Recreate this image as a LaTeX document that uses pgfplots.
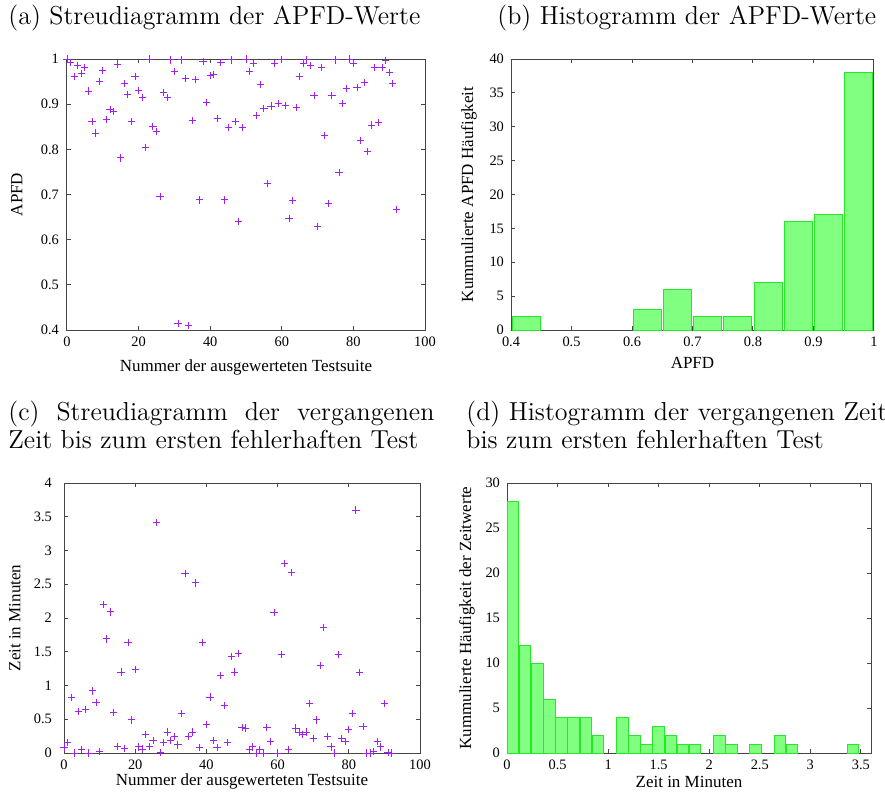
\documentclass[border=0pt]{standalone}
\usepackage{fontspec}
\usepackage{pgfplots}
\pgfplotsset{compat=1.18}
\newfontfamily\tnr{Liberation Serif}
\definecolor{pts}{RGB}{160,32,240}
\definecolor{barfill}{RGB}{128,255,128}
\definecolor{baredge}{RGB}{40,230,40}
\definecolor{axgray}{RGB}{70,70,70}
\pgfplotsset{
  myaxis/.style={
    scale only axis,
    axis line style={axgray, line width=0.5pt},
    every tick/.style={axgray, line width=0.5pt},
    tick align=inside,
    major tick length=2pt,
    minor tick num=0,
    /pgf/number format/assume math mode=true,
    ticklabel style={font=\tnr\fontsize{7.2}{8}\selectfont},
    label style={font=\tnr\fontsize{8.5}{10}\selectfont},
    scaled ticks=false,
  },
  scat/.style={only marks, mark=+, mark size=1.8pt, color=pts, mark options={line width=0.45pt}},
  hist/.style={ybar, bar shift=0pt, fill=barfill, draw=baredge, line width=0.5pt},
}
\pgfplotstableread{
n v
0 1.0
1 0.993
2 0.961
3 0.985
4 0.968
5 0.982
6 0.929
7 0.861
8 0.836
9 0.951
10 0.975
11 0.866
12 0.889
13 0.884
14 0.989
15 0.781
16 0.946
17 0.922
18 0.861
19 0.962
20 0.931
21 0.914
22 0.804
23 1.0
24 0.851
25 0.839
26 0.695
27 0.926
28 0.914
29 0.998
30 0.973
31 0.415
32 0.998
33 0.957
34 0.41
35 0.863
36 0.955
37 0.688
38 0.994
39 0.904
40 0.963
41 0.965
42 0.869
43 0.992
44 0.688
45 0.849
46 0.998
47 0.861
48 0.641
49 0.849
50 1.0
51 0.973
52 0.990
53 0.875
54 0.943
55 0.891
56 0.725
57 0.896
58 0.990
59 0.901
60 0.999
61 0.897
62 0.647
63 0.687
64 0.892
65 0.962
66 0.990
67 0.998
68 0.986
69 0.919
70 0.630
71 0.982
72 0.831
73 0.680
74 0.920
75 0.998
76 0.749
77 0.901
78 0.935
79 1.0
80 0.990
81 0.937
82 0.820
83 0.948
84 0.796
85 0.854
86 0.981
87 0.859
88 0.981
89 0.996
90 0.971
91 0.945
92 0.667
}\apfd
\pgfplotstableread{
x c
0.425 2
0.625 3
0.675 6
0.725 2
0.775 2
0.825 7
0.875 16
0.925 17
0.975 38
}\apfdhist
\pgfplotstableread{
n t
0 0.08
1 0.15
2 0.82
3 0.0
4 0.61
5 0.05
6 0.64
7 0.0
8 0.92
9 0.75
10 0.02
11 2.20
12 1.69
13 2.09
14 0.60
15 0.10
16 1.20
17 0.07
18 1.64
19 0.49
20 1.24
21 0.09
22 0.06
23 0.28
24 0.10
25 0.19
26 3.41
27 0.005
28 0.16
29 0.31
30 0.19
31 0.24
32 0.12
33 0.58
34 2.66
35 0.24
36 0.31
37 2.52
38 0.08
39 1.64
40 0.42
41 0.83
42 0.19
43 0.08
44 1.15
45 0.70
46 0.15
47 1.43
48 1.20
49 1.47
50 0.38
51 0.37
52 0.05
53 0.09
54 0.0
55 0.05
56 0.0
57 0.375
58 0.17
59 2.08
60 0.0
61 1.46
62 2.81
63 0.05
64 2.68
65 0.37
66 0.31
67 0.27
68 0.31
69 0.73
70 0.21
71 0.49
72 1.30
73 1.86
74 0.25
75 0.09
76 0.0
77 1.46
78 0.21
79 0.17
80 0.35
81 0.58
82 3.60
83 1.19
84 0.39
85 0.0
86 0.0
87 0.02
88 0.17
89 0.09
90 0.73
91 0.01
92 0.0
}\zeit
\pgfplotstableread{
x c
0.06 28
0.18 12
0.30 10
0.42 6
0.54 4
0.66 4
0.78 4
0.90 2
1.14 4
1.26 2
1.38 1
1.50 3
1.62 2
1.74 1
1.86 1
2.10 2
2.22 1
2.46 1
2.70 2
2.82 1
3.42 1
}\zeithist
\begin{document}
\begin{tikzpicture}
\useasboundingbox (0,0) rectangle (442.5pt,-397pt);
% titles
\node[anchor=base west, inner sep=0, font=\fontsize{13}{14}\selectfont] at (4pt,-12pt) {(a) Streudiagramm der APFD-Werte};
\node[anchor=base west, inner sep=0, font=\fontsize{13}{14}\selectfont] at (248.5pt,-12pt) {(b) Histogramm der APFD-Werte};
\node[anchor=base west, inner sep=0, font=\fontsize{13}{14}\selectfont] at (4pt,-210pt) {\makebox[213pt][s]{(c) Streudiagramm der vergangenen}};
\node[anchor=base west, inner sep=0, font=\fontsize{13}{14}\selectfont] at (4pt,-224pt) {Zeit bis zum ersten fehlerhaften Test};
\node[anchor=base west, inner sep=0, font=\fontsize{13}{14}\selectfont] at (233pt,-210pt) {(d) Histogramm der vergangenen Zeit};
\node[anchor=base west, inner sep=0, font=\fontsize{13}{14}\selectfont] at (233pt,-224pt) {bis zum ersten fehlerhaften Test};
% (a)
\begin{axis}[myaxis, at={(33.5pt,-165pt)}, anchor=south west,
  width=179pt, height=135.5pt,
  xmin=0, xmax=100, ymin=0.4, ymax=1,
  xtick={0,20,40,60,80,100}, ytick={0.4,0.5,0.6,0.7,0.8,0.9,1},
  xlabel={Nummer der ausgewerteten Testsuite}, ylabel={APFD},
  x label style={at={(axis description cs:0.5,-0.137)}, anchor=center},
  y label style={at={(axis description cs:-0.14,0.5)}, anchor=center},
  yticklabel style={xshift=-0.5pt}]
\addplot[scat] table[x=n, y=v] {\apfd};
\end{axis}
% (b)
\begin{axis}[myaxis, at={(255.5pt,-165pt)}, anchor=south west,
  width=181.5pt, height=135.5pt,
  xmin=0.4, xmax=1, ymin=0, ymax=40,
  xtick={0.4,0.5,0.6,0.7,0.8,0.9,1}, ytick={0,5,10,15,20,25,30,35,40},
  xlabel={APFD}, ylabel={Kummulierte APFD Häufigkeit},
  x label style={at={(axis description cs:0.5,-0.122)}, anchor=center},
  y label style={at={(axis description cs:-0.116,0.5)}, anchor=center}]
\addplot[hist, bar width=0.046] table[x=x, y=c] {\apfdhist};
\end{axis}
% (c)
\begin{axis}[myaxis, at={(32pt,-376.5pt)}, anchor=south west,
  width=178pt, height=135pt,
  xmin=0, xmax=100, ymin=0, ymax=4,
  xtick={0,20,40,60,80,100}, ytick={0,0.5,1,1.5,2,2.5,3,3.5,4},
  xlabel={Nummer der ausgewerteten Testsuite}, ylabel={Zeit in Minuten},
  x label style={at={(axis description cs:0.5,-0.107)}, anchor=center},
  y label style={at={(axis description cs:-0.138,0.5)}, anchor=center},
  yticklabel style={xshift=-2.5pt}]
\addplot[scat] table[x=n, y=t] {\zeit};
\end{axis}
% (d)
\begin{axis}[myaxis, at={(253.5pt,-376.5pt)}, anchor=south west,
  width=182pt, height=135pt,
  xmin=0, xmax=3.6, ymin=0, ymax=30,
  xtick={0,0.5,1,1.5,2,2.5,3,3.5}, ytick={0,5,10,15,20,25,30},
  xlabel={Zeit in Minuten}, ylabel={Kummulierte Häufigkeit der Zeitwerte},
  x label style={at={(axis description cs:0.5,-0.107)}, anchor=center},
  y label style={at={(axis description cs:-0.11,0.5)}, anchor=center}]
\addplot[hist, bar width=0.114] table[x=x, y=c] {\zeithist};
\end{axis}
\end{tikzpicture}
\end{document}
